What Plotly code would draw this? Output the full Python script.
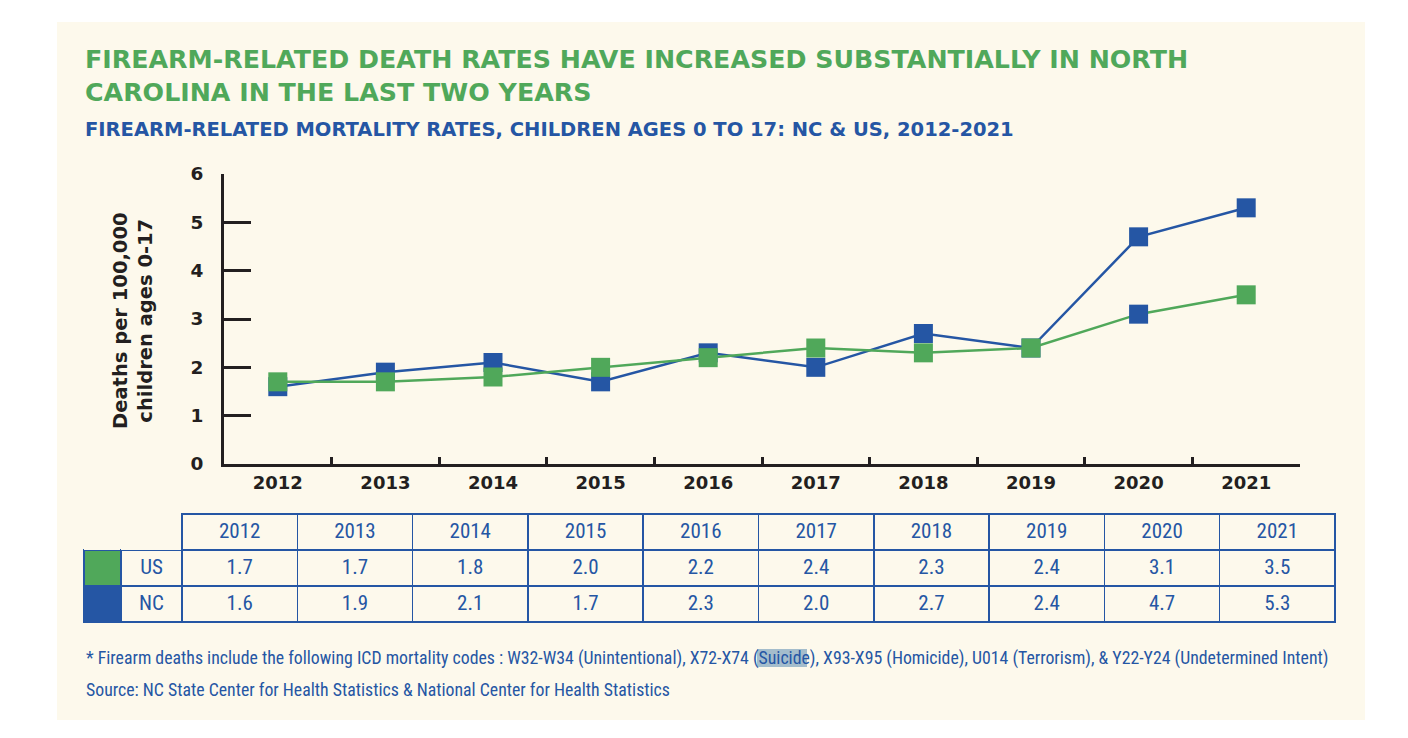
import plotly.graph_objects as go

# data
years = ["2012", "2013", "2014", "2015", "2016", "2017", "2018", "2019", "2020", "2021"]
us_rates = [1.7, 1.7, 1.8, 2.0, 2.2, 2.4, 2.3, 2.4, 3.1, 3.5]
nc_rates = [1.6, 1.9, 2.1, 1.7, 2.3, 2.0, 2.7, 2.4, 4.7, 5.3]
y_ticks = [0, 1, 2, 3, 4, 5, 6]

W, H = 1408, 738
OFF = 8  # page body margin
GREEN = "#50A85A"
BLUE = "#2556A4"
CREAM = "#FDF9EC"
INK = "#231F20"
HEAD = "DejaVu Sans"
NARROW = "Liberation Sans Narrow, Roboto Condensed, Roboto"


# pixel -> paper helpers (margins are zero so paper == page)
def px(x):
    return (x - OFF) / W


def py(y):
    return 1 - (y - OFF) / H


fig = go.Figure()

fig.add_trace(go.Scatter(
    x=years, y=nc_rates, name="NC", mode="lines+markers",
    line=dict(color=BLUE, width=2.5),
    marker=dict(symbol="square", size=19, color=BLUE),
    cliponaxis=False, showlegend=False))

# the 2020 US marker is blue in the original graphic
us_marker_colors = [BLUE if y == "2020" else GREEN for y in years]
fig.add_trace(go.Scatter(
    x=years, y=us_rates, name="US", mode="lines+markers",
    line=dict(color=GREEN, width=2.5),
    marker=dict(symbol="square", size=19, color=us_marker_colors),
    cliponaxis=False, showlegend=False))

# data table below the chart
col_vals = [["", ""], ["US", "NC"]]
for i in range(len(years)):
    col_vals.append(["%.1f" % us_rates[i], "%.1f" % nc_rates[i]])
n_cols = len(col_vals)
cell_fill = [[GREEN, BLUE]] + [[CREAM, CREAM]] * (n_cols - 1)

fig.add_trace(go.Table(
    domain=dict(x=[px(84), px(1335)], y=[py(623), py(514)]),
    columnwidth=[37, 61] + [115.3] * len(years),
    header=dict(
        values=["", ""] + years,
        height=36,
        fill=dict(color=CREAM),
        line=dict(color=[CREAM, CREAM] + [BLUE] * len(years),
                  width=[0, 0] + [1.5] * len(years)),
        align="center",
        font=dict(family=NARROW, size=21, color=BLUE),
    ),
    cells=dict(
        values=col_vals,
        height=36,
        fill=dict(color=cell_fill),
        line=dict(color=BLUE, width=1.5),
        align="center",
        font=dict(family=NARROW, size=21, color=BLUE),
    ),
))

fig.update_layout(
    width=W, height=H,
    margin=dict(l=0, r=0, t=0, b=0, autoexpand=False),
    paper_bgcolor="white",
    plot_bgcolor="rgba(0,0,0,0)",
    font=dict(family=HEAD, color=INK),
    xaxis=dict(
        domain=[px(224), px(1300)],
        type="category", range=[-0.5, 9.5],
        showline=True, linewidth=3, linecolor=INK,
        ticks="inside", tickson="boundaries", ticklen=7, tickwidth=2.5, tickcolor=INK,
        showgrid=False, zeroline=False,
        tickfont=dict(family=HEAD, size=18, color=INK, weight="bold"),
    ),
    yaxis=dict(
        domain=[py(464), py(174)],
        range=[0, 6], tickvals=y_ticks,
        showline=True, linewidth=3, linecolor=INK,
        ticks="inside", ticklen=27, tickwidth=3, tickcolor=INK,
        ticklabelstandoff=14,
        showgrid=False, zeroline=False,
        tickfont=dict(family=HEAD, size=18.5, color=INK, weight="bold"),
    ),
)

# cream panel behind everything
fig.add_shape(type="rect", xref="paper", yref="paper",
              x0=px(57), x1=px(1365), y0=py(720), y1=py(22),
              fillcolor=CREAM, line=dict(width=0), layer="below")

# highlight behind "Suicide" in the footnote
fig.add_shape(type="rect", xref="paper", yref="paper",
              x0=px(757), x1=px(807), y0=py(667), y1=py(649),
              fillcolor="#A4BDCC", line=dict(width=0), layer="below")

fig.add_annotation(
    text="FIREARM-RELATED DEATH RATES HAVE INCREASED SUBSTANTIALLY IN NORTH<br>CAROLINA IN THE LAST TWO YEARS",
    xref="paper", yref="paper", x=px(83), y=py(43), xanchor="left", yanchor="top",
    align="left", showarrow=False,
    font=dict(family=HEAD, size=25.3, color=GREEN, weight="bold"))

fig.add_annotation(
    text="FIREARM-RELATED MORTALITY RATES, CHILDREN AGES 0 TO 17: NC & US, 2012-2021",
    xref="paper", yref="paper", x=px(83), y=py(116), xanchor="left", yanchor="top",
    align="left", showarrow=False,
    font=dict(family=HEAD, size=19.5, color=BLUE, weight="bold"))

fig.add_annotation(
    text="Deaths per 100,000<br>children ages 0-17",
    xref="paper", yref="paper", x=px(133), y=py(321), textangle=-90,
    xanchor="center", yanchor="middle",
    showarrow=False, align="center",
    font=dict(family=HEAD, size=19.5, color=INK, weight="bold"))

fig.add_annotation(
    text="* Firearm deaths include the following ICD mortality codes : W32-W34 (Unintentional), "
         "X72-X74 (Suicide), X93-X95 (Homicide), U014 (Terrorism), & Y22-Y24 (Undetermined Intent)",
    xref="paper", yref="paper", x=px(84), y=py(658), xanchor="left", yanchor="middle",
    showarrow=False,
    font=dict(family=NARROW, size=17.8, color=BLUE))

fig.add_annotation(
    text="Source: NC State Center for Health Statistics & National Center for Health Statistics",
    xref="paper", yref="paper", x=px(84), y=py(689), xanchor="left", yanchor="middle",
    showarrow=False,
    font=dict(family=NARROW, size=17.8, color=BLUE))

fig.write_html("out.html")
